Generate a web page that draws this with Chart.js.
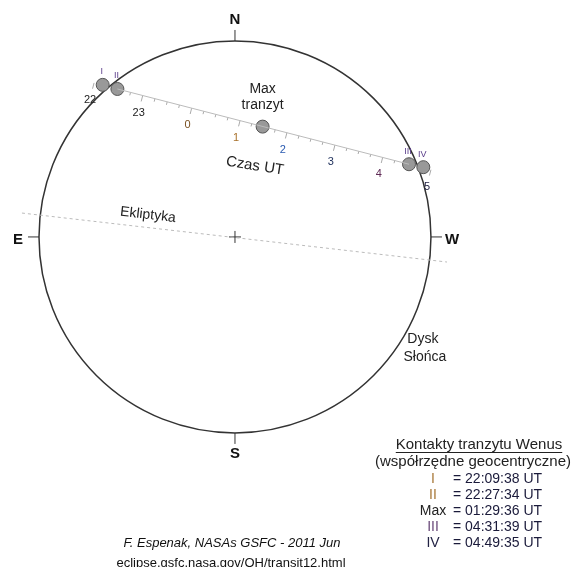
<!DOCTYPE html>
<html>
<head>
<meta charset="utf-8">
<script src="https://cdn.jsdelivr.net/npm/chart.js@4.4.1/dist/chart.umd.min.js"></script>
<style>
  html, body { margin: 0; padding: 0; background: #fff; }
  #wrap { position: relative; width: 575px; height: 567px; }
</style>
</head>
<body>
<div id="wrap"><canvas id="transit"></canvas></div>
<script>
// all positions in solar radii: x grows to the west, y to the north, sun centre at 0,0
const hourLabels = ['22', '23', '0', '1', '2', '3', '4', '5'];
const hourX = [-0.719, -0.471, -0.221, 0.026, 0.265, 0.510, 0.754, 1.000];
const hourY = [0.786, 0.721, 0.657, 0.594, 0.532, 0.469, 0.407, 0.343];
const hourColors = ['#222', '#222', '#7a5020', '#a8702a', '#2a5ab0', '#22335e', '#5e2a55', '#222244'];

const contactNames = ['I', 'II', 'Max', 'III', 'IV'];
const contactTimes = ['22:09:38', '22:27:34', '01:29:36', '04:31:39', '04:49:35'];
const contactX = [-0.675, -0.600, 0.141, 0.888, 0.961];
const contactY = [0.776, 0.755, 0.563, 0.371, 0.356];
const contactColors = ['#a87838', '#a87838', '#222', '#6a4a7a', '#222244'];

const eclipticX = [-1.087, 1.082];
const eclipticY = [0.122, -0.128];

const compassLabels = ['N', 'W', 'S', 'E'];
const compassAngles = [90, 0, 270, 180];

const pt = (xs, ys) => xs.map((x, i) => ({ x: x, y: ys[i] }));

// sun disk, compass ticks, track ticks
const diskPlugin = {
  id: 'disk',
  beforeDatasetsDraw(chart) {
    const { ctx, scales: { x, y } } = chart;
    const cx = x.getPixelForValue(0), cy = y.getPixelForValue(0);
    const r = x.getPixelForValue(1) - cx;
    ctx.save();
    ctx.strokeStyle = '#333';
    ctx.lineWidth = 1.5;
    ctx.beginPath();
    ctx.arc(cx, cy, r, 0, Math.PI * 2);
    ctx.stroke();

    ctx.lineWidth = 1;
    compassAngles.forEach(a => {
      const t = a * Math.PI / 180;
      ctx.beginPath();
      ctx.moveTo(cx + Math.cos(t) * r, cy - Math.sin(t) * r);
      ctx.lineTo(cx + Math.cos(t) * (r + 11), cy - Math.sin(t) * (r + 11));
      ctx.stroke();
    });

    // ticks along the track, hour ticks + quarter hours inside the disk
    ctx.strokeStyle = '#aaa';
    for (let i = 0; i < hourX.length; i++) {
      const px = x.getPixelForValue(hourX[i]), py = y.getPixelForValue(hourY[i]);
      let dx, dy;
      if (i < hourX.length - 1) {
        dx = x.getPixelForValue(hourX[i + 1]) - px;
        dy = y.getPixelForValue(hourY[i + 1]) - py;
      } else {
        dx = px - x.getPixelForValue(hourX[i - 1]);
        dy = py - y.getPixelForValue(hourY[i - 1]);
      }
      const len = Math.hypot(dx, dy);
      const nx = -dy / len, ny = dx / len;
      ctx.beginPath();
      ctx.moveTo(px, py);
      ctx.lineTo(px + nx * 6, py + ny * 6);
      ctx.stroke();
      if (i < hourX.length - 1) {
        for (let q = 1; q < 4; q++) {
          const qx = px + dx * q / 4, qy = py + dy * q / 4;
          if (Math.hypot(qx - cx, qy - cy) > r - 8) continue;
          ctx.beginPath();
          ctx.moveTo(qx, qy);
          ctx.lineTo(qx + nx * 3, qy + ny * 3);
          ctx.stroke();
        }
      }
    }
    ctx.restore();
  }
};

const textPlugin = {
  id: 'texts',
  afterDatasetsDraw(chart) {
    const { ctx, scales: { x, y } } = chart;
    const cx = x.getPixelForValue(0), cy = y.getPixelForValue(0);
    const r = x.getPixelForValue(1) - cx;
    ctx.save();
    ctx.textAlign = 'center';
    ctx.textBaseline = 'middle';

    ctx.fillStyle = '#111';
    ctx.font = 'bold 15px "Liberation Sans", Arial, sans-serif';
    compassLabels.forEach((lab, i) => {
      const t = compassAngles[i] * Math.PI / 180;
      const rr = r + 21;
      const shift = (lab === 'E' || lab === 'W') ? 3 : 0;
      ctx.fillText(lab, cx + Math.cos(t) * rr, cy - Math.sin(t) * rr + shift);
    });

    ctx.font = '11px "Liberation Sans", Arial, sans-serif';
    hourLabels.forEach((lab, i) => {
      ctx.fillStyle = hourColors[i];
      ctx.fillText(lab, x.getPixelForValue(hourX[i]) - 4, y.getPixelForValue(hourY[i]) + 17);
    });

    ctx.font = '9px "Liberation Sans", Arial, sans-serif';
    contactNames.forEach((lab, i) => {
      if (lab === 'Max') return;
      ctx.fillStyle = '#5a3d8a';
      ctx.fillText(lab, x.getPixelForValue(contactX[i]) - 1, y.getPixelForValue(contactY[i]) - 13);
    });

    ctx.fillStyle = '#222';
    ctx.font = '14px "Liberation Sans", Arial, sans-serif';
    const mx = x.getPixelForValue(contactX[2]), my = y.getPixelForValue(contactY[2]);
    ctx.fillText('Max', mx, my - 37);
    ctx.fillText('tranzyt', mx, my - 21);

    ctx.fillText('Dysk', x.getPixelForValue(0.959), y.getPixelForValue(-0.520));
    ctx.fillText('Słońca', x.getPixelForValue(0.969), y.getPixelForValue(-0.612));

    ctx.save();
    ctx.translate(x.getPixelForValue(0.102), y.getPixelForValue(0.362));
    ctx.rotate(9 * Math.PI / 180);
    ctx.font = '15px "Liberation Sans", Arial, sans-serif';
    ctx.fillText('Czas UT', 0, 0);
    ctx.restore();

    ctx.save();
    ctx.translate(x.getPixelForValue(-0.444), y.getPixelForValue(0.112));
    ctx.rotate(6.6 * Math.PI / 180);
    ctx.font = '14px "Liberation Sans", Arial, sans-serif';
    ctx.fillText('Ekliptyka', 0, 0);
    ctx.restore();

    // contact table
    ctx.font = '15px "Liberation Sans", Arial, sans-serif';
    ctx.fillStyle = '#222';
    const title = 'Kontakty tranzytu Wenus';
    ctx.fillText(title, 479, 445);
    const tw = ctx.measureText(title).width;
    ctx.fillRect(479 - tw / 2, 452, tw, 1);
    ctx.fillText('(współrzędne geocentryczne)', 473, 462);
    ctx.font = '14px "Liberation Sans", Arial, sans-serif';
    contactNames.forEach((lab, i) => {
      const ry = 479 + i * 16;
      ctx.textAlign = 'center';
      ctx.fillStyle = contactColors[i];
      ctx.fillText(lab, 433, ry);
      ctx.textAlign = 'left';
      ctx.fillStyle = '#1a1a3a';
      ctx.fillText('= ' + contactTimes[i] + ' UT', 453, ry);
    });

    ctx.textAlign = 'center';
    ctx.fillStyle = '#111';
    ctx.font = 'italic 13px "Liberation Sans", Arial, sans-serif';
    ctx.fillText('F. Espenak, NASAs GSFC - 2011 Jun', 232, 543);
    ctx.font = '13px "Liberation Sans", Arial, sans-serif';
    ctx.fillText('eclipse.gsfc.nasa.gov/OH/transit12.html', 231, 563);
    ctx.restore();
  }
};

const chart = new Chart(document.getElementById('transit').getContext('2d'), {
  type: 'scatter',
  data: {
    datasets: [
      {
        label: 'Ekliptyka',
        data: pt(eclipticX, eclipticY),
        showLine: true,
        borderColor: '#bbb',
        borderWidth: 1,
        borderDash: [3, 3],
        pointRadius: 0
      },
      {
        label: 'Czas UT',
        data: pt([contactX[1], contactX[3]], [contactY[1], contactY[3]]),
        showLine: true,
        borderColor: '#bbb',
        borderWidth: 1,
        pointRadius: 0
      },
      {
        label: 'Centrum',
        data: [{ x: 0, y: 0 }],
        pointStyle: 'cross',
        pointRadius: 6,
        borderColor: '#333',
        borderWidth: 1
      },
      {
        label: 'Wenus',
        data: pt(contactX, contactY),
        pointRadius: 6.5,
        backgroundColor: '#999',
        borderColor: '#555',
        borderWidth: 1
      }
    ]
  },
  options: {
    responsive: true,
    maintainAspectRatio: false,
    animation: false,
    layout: { padding: 0, autoPadding: false },
    plugins: {
      legend: { display: false },
      tooltip: { enabled: false },
      title: { display: false }
    },
    scales: {
      x: { type: 'linear', min: -1.199, max: 1.735, display: false },
      y: { type: 'linear', min: -1.684, max: 1.209, display: false }
    }
  },
  plugins: [diskPlugin, textPlugin]
});
</script>
</body>
</html>
